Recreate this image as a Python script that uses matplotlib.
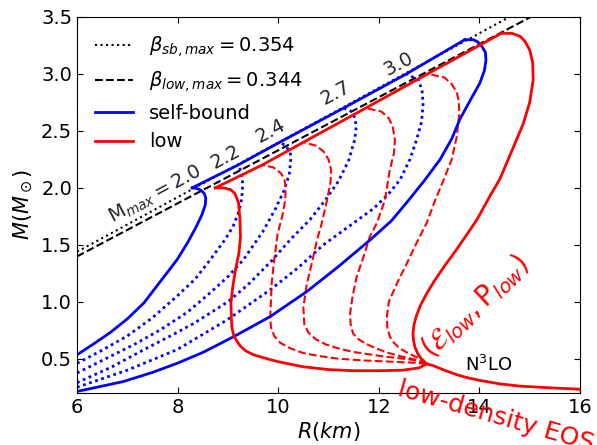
import matplotlib
matplotlib.use("Agg")
import matplotlib.pyplot as plt

# maximum compactness of each family, M = beta * R * c^2 / G
beta_sb_max = 0.354
beta_low_max = 0.344
GM_SUN_KM = 1.4766  # G*M_sun/c^2 in km
R_line = [6.0, 16.0]

# self-bound stars, Mmax = 2.0 and 3.3 (solid)
sb20_R = [6.0, 6.33, 6.66, 7.0, 7.33, 7.66, 7.99, 8.2, 8.36, 8.48, 8.55, 8.56, 8.53, 8.46, 8.38, 8.29]
sb20_M = [0.535, 0.63, 0.73, 0.85, 0.99, 1.18, 1.37, 1.52, 1.65, 1.76, 1.85, 1.91, 1.95, 1.98, 1.995, 2.0]
sb33_R = [6.0, 6.5, 6.92, 7.5, 7.99, 8.5, 9.12, 9.84, 10.57, 11.2, 11.82, 12.25, 12.59, 12.9, 13.22,
          13.45, 13.61, 13.82, 14.01, 14.10, 14.13, 14.12, 14.05, 13.97, 13.88, 13.71]
sb33_M = [0.213, 0.26, 0.30, 0.38, 0.46, 0.555, 0.695, 0.87, 1.09, 1.31, 1.54, 1.71, 1.89, 2.06, 2.25,
          2.43, 2.60, 2.77, 2.92, 3.03, 3.12, 3.19, 3.24, 3.28, 3.30, 3.30]

# self-bound stars, intermediate Mmax (dotted)
sb22_R = [6.0, 6.5, 7.0, 7.5, 7.99, 8.35, 8.65, 8.95, 9.1, 9.2, 9.26, 9.29, 9.29, 9.27, 9.23, 9.2]
sb22_M = [0.46, 0.575, 0.70, 0.86, 1.05, 1.20, 1.37, 1.55, 1.66, 1.77, 1.87, 1.97, 2.06, 2.13, 2.18, 2.2]
sb24_R = [6.0, 6.66, 7.2, 7.66, 8.2, 8.65, 9.0, 9.31, 9.7, 9.95, 10.12, 10.22, 10.25, 10.24, 10.15, 10.03]
sb24_M = [0.375, 0.52, 0.64, 0.755, 0.91, 1.08, 1.22, 1.37, 1.62, 1.82, 1.98, 2.12, 2.25, 2.31, 2.37, 2.4]
sb27_R = [6.0, 6.7, 7.33, 7.9, 8.32, 9.0, 9.4, 9.87, 10.25, 10.63, 10.95, 11.2, 11.4, 11.52, 11.55,
          11.53, 11.46, 11.3]
sb27_M = [0.29, 0.43, 0.58, 0.71, 0.81, 1.0, 1.15, 1.36, 1.55, 1.72, 1.9, 2.06, 2.24, 2.42, 2.53,
          2.61, 2.67, 2.7]
sb30_R = [6.0, 7.0, 7.99, 8.98, 9.84, 10.4, 10.9, 11.4, 11.9, 12.2, 12.42, 12.62, 12.75, 12.85, 12.88,
          12.86, 12.78, 12.55]
sb30_M = [0.25, 0.40, 0.58, 0.84, 1.105, 1.30, 1.50, 1.66, 1.82, 1.95, 2.07, 2.25, 2.42, 2.58, 2.73,
          2.86, 2.95, 3.0]

# locus of the maximum masses
sb_peak_R = [8.29, 9.2, 10.03, 11.3, 12.55, 13.71]
sb_peak_M = [2.0, 2.2, 2.4, 2.7, 3.0, 3.30]
low_peak_R = [8.75, 9.68, 10.5, 11.74, 12.97, 14.44]
low_peak_M = [2.0, 2.2, 2.4, 2.7, 3.0, 3.357]

# stars matched to the low-density EOS, Mmax = 2.0 and 3.35 (solid)
low20_R = [12.95, 12.8, 12.48, 12.0, 11.49, 11.0, 10.49, 9.98, 9.7, 9.51, 9.35, 9.25, 9.17, 9.12,
           9.08, 9.07, 9.06, 9.10, 9.15, 9.22, 9.25, 9.24, 9.21, 9.14, 9.05, 8.9, 8.75]
low20_M = [0.455, 0.42, 0.40, 0.395, 0.395, 0.405, 0.43, 0.476, 0.51, 0.535, 0.57, 0.61, 0.66, 0.70,
           0.77, 0.85, 0.99, 1.14, 1.28, 1.43, 1.57, 1.72, 1.87, 1.95, 1.985, 2.0, 2.0]
low33_R = [12.95, 12.86, 12.78, 12.72, 12.69, 12.68, 12.70, 12.75, 12.83, 12.95, 13.1, 13.3, 13.5,
           13.72, 13.95, 14.2, 14.41, 14.65, 14.87, 15.0, 15.07, 15.06, 15.0, 14.9, 14.81, 14.65, 14.44]
low33_M = [0.455, 0.49, 0.54, 0.60, 0.66, 0.72, 0.80, 0.88, 0.97, 1.07, 1.18, 1.31, 1.43,
           1.57, 1.72, 1.92, 2.08, 2.33, 2.56, 2.75, 2.95, 3.1, 3.21, 3.29, 3.33, 3.355, 3.357]

# intermediate Mmax (dashed)
low22_R = [12.95, 12.7, 12.2, 11.7, 11.2, 10.8, 10.5, 10.25, 10.04, 9.92, 9.86, 9.84, 9.85, 9.87, 9.92,
           9.99, 10.08, 10.14, 10.15, 10.12, 10.05, 9.9, 9.68]
low22_M = [0.455, 0.465, 0.475, 0.485, 0.50, 0.525, 0.55, 0.59, 0.64, 0.70, 0.77, 0.85, 0.95, 1.16, 1.37,
           1.60, 1.75, 1.89, 2.01, 2.08, 2.13, 2.18, 2.2]
low24_R = [12.95, 12.69, 12.1, 11.49, 11.2, 10.95, 10.75, 10.6, 10.52, 10.5, 10.57, 10.68, 10.77, 10.86,
           10.97, 11.04, 11.05, 11.0, 10.9, 10.75, 10.5]
low24_M = [0.455, 0.49, 0.52, 0.56, 0.59, 0.625, 0.67, 0.73, 0.8, 0.95, 1.16, 1.36, 1.54, 1.68,
           1.89, 2.05, 2.16, 2.25, 2.32, 2.37, 2.4]
low27_R = [12.95, 12.75, 12.45, 12.2, 11.95, 11.75, 11.6, 11.49, 11.44, 11.43, 11.48, 11.56, 11.7,
           11.82, 11.96, 12.12, 12.22, 12.3, 12.32, 12.28, 12.2, 12.05, 11.74]
low27_M = [0.455, 0.49, 0.52, 0.55, 0.59, 0.63, 0.67, 0.72, 0.80, 0.90, 1.05, 1.22, 1.40,
           1.57, 1.69, 1.89, 2.16, 2.3, 2.42, 2.53, 2.61, 2.67, 2.7]
low30_R = [12.95, 12.88, 12.72, 12.56, 12.42, 12.3, 12.22, 12.17, 12.16, 12.2, 12.36, 12.55, 12.75, 12.95,
           13.12, 13.28, 13.45, 13.55, 13.6, 13.59, 13.55, 13.45, 13.3, 12.97]
low30_M = [0.455, 0.49, 0.52, 0.555, 0.59, 0.64, 0.695, 0.77, 0.87, 1.0, 1.16, 1.33, 1.515, 1.69,
           1.89, 2.06, 2.25, 2.45, 2.65, 2.76, 2.84, 2.91, 2.97, 3.0]

# N3LO low-density branch
n3lo_R = [12.95, 13.08, 13.3, 13.55, 13.75, 14.01, 14.4, 14.8, 15.4, 16.0]
n3lo_M = [0.455, 0.44, 0.40, 0.36, 0.335, 0.31, 0.28, 0.26, 0.245, 0.232]

mmax_labels = ["2.0", "2.2", "2.4", "2.7", "3.0"]

fig = plt.figure(figsize=(5.97, 4.45), dpi=100)
ax = fig.add_axes([0.129, 0.117, 0.8425, 0.845])

line_sb = [beta_sb_max * r / GM_SUN_KM for r in R_line]
line_low = [beta_low_max * r / GM_SUN_KM for r in R_line]
ax.plot(R_line, line_sb, color='k', ls=':', lw=1.5, label=r'$\beta_{sb,max}=0.354$')
ax.plot(R_line, line_low, color='k', ls='--', lw=1.5, label=r'$\beta_{low,max}=0.344$')

dots = (0, (1, 1.3))
for R, M in [(sb22_R, sb22_M), (sb24_R, sb24_M), (sb27_R, sb27_M), (sb30_R, sb30_M)]:
    ax.plot(R, M, color='b', ls=dots, lw=2)
for R, M in [(low22_R, low22_M), (low24_R, low24_M), (low27_R, low27_M), (low30_R, low30_M)]:
    ax.plot(R, M, color='r', ls='--', lw=1.5)

ax.plot(sb20_R, sb20_M, color='b', lw=2, label='self-bound')
ax.plot(sb33_R, sb33_M, color='b', lw=2)
ax.plot(sb_peak_R, sb_peak_M, color='b', lw=2)
ax.plot(low20_R, low20_M, color='r', lw=2, label='low')
ax.plot(low33_R, low33_M, color='r', lw=2)
ax.plot(low_peak_R, low_peak_M, color='r', lw=2)
ax.plot(n3lo_R, n3lo_M, color='r', lw=2)

# Mmax labels along the compactness line
label_pos = [(7.55, 1.94), (8.96, 2.275), (9.85, 2.50), (11.14, 2.83), (12.39, 3.09)]
for i, (txt, (x, y)) in enumerate(zip(mmax_labels, label_pos)):
    s = r'$\mathrm{M}_{max}=$' + txt if i == 0 else txt
    ax.text(x, y, s, rotation=28, ha='center', va='center', fontsize=14, color='0.15')

ax.text(13.05, 0.5, r'$(\mathcal{E}_{low},\mathrm{P}_{low})$', color='r', fontsize=20,
        rotation=43, rotation_mode='anchor', ha='left', va='baseline')
ax.text(12.45, 0.34, 'low-density EOS', color='r', fontsize=18, rotation=-16,
        rotation_mode='anchor', ha='left', va='top', clip_on=False)
ax.text(13.71, 0.39, r'$\mathrm{N^3LO}$', color='k', fontsize=13, ha='left', va='baseline')

ax.set_xlim(6, 16)
ax.set_ylim(0.2, 3.5)
ax.set_xticks([6, 8, 10, 12, 14, 16])
ax.set_yticks([0.5, 1.0, 1.5, 2.0, 2.5, 3.0, 3.5])
ax.tick_params(direction='in', top=True, right=True, length=4, labelsize=14)
ax.set_xlabel(r'$R(km)$', fontsize=15, labelpad=2)
ax.set_ylabel(r'$M(M_\odot)$', fontsize=15)

ax.legend(loc='upper left', frameon=False, fontsize=14, handlelength=2.0, handletextpad=0.8)

fig.savefig('out.png', dpi=100)
